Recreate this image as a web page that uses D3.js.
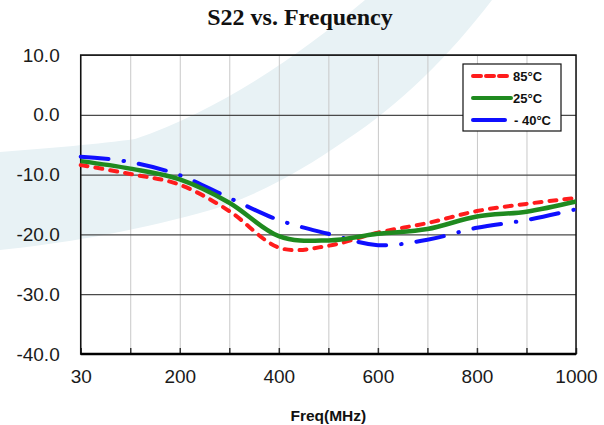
<!DOCTYPE html>
<html>
<head>
<meta charset="utf-8">
<script src="https://cdn.jsdelivr.net/npm/d3@7"></script>
<style>
  body { margin: 0; background: #fff; }
  svg { display: block; font-family: "Liberation Sans", Arial, sans-serif; }
</style>
</head>
<body>
<div id="chart"></div>
<script>
// frequency categories (MHz), evenly spaced on the axis
var freqs = [30, 100, 200, 300, 400, 500, 600, 700, 800, 900, 1000];
var freqLabels = [30, 200, 400, 600, 800, 1000];

// S22 (dB)
var s22_85 = [-8.4, -9.9, -11.7, -16.1, -22.2, -21.9, -19.7, -18.1, -16.1, -14.9, -13.9];
var s22_25 = [-7.75, -9.0, -10.8, -14.7, -20.3, -21.0, -19.9, -19.1, -17.0, -16.2, -14.5];
var s22_m40 = [-7.0, -7.9, -10.1, -13.9, -17.6, -19.9, -21.8, -20.9, -18.9, -17.6, -15.8];

var yTicks = [10, 0, -10, -20, -30, -40];

var series = [
  {name: "85°C", values: s22_85, color: "#ff1c1c", width: 4, dash: "7,8"},
  {name: "25°C", values: s22_25, color: "#1f8a1f", width: 4.5, dash: null},
  {name: "- 40°C", values: s22_m40, color: "#0f0fff", width: 4, dash: "28,15,0.5,15"}
];

var W = 604, H = 425;
var margin = {top: 55, right: 28, bottom: 71, left: 80.7};
var width = W - margin.left - margin.right,
    height = H - margin.top - margin.bottom;

var svg = d3.select("#chart").append("svg")
    .attr("width", W)
    .attr("height", H);

// faint watermark swoosh behind the chart
svg.append("path")
    .attr("d", "M0,152 C50,148 100,144 135,139 C220,110 300,55 365,0 L492,0 C450,55 400,105 346,140 C300,172 250,200 200,213 C130,232 60,244 0,250 Z")
    .attr("fill", "#e8f2f5");

svg.append("text")
    .attr("x", 300)
    .attr("y", 24.5)
    .attr("text-anchor", "middle")
    .style("font-family", "'Liberation Serif', 'Times New Roman', serif")
    .style("font-weight", "bold")
    .style("font-size", "24px")
    .attr("fill", "#111")
    .text("S22 vs. Frequency");

var g = svg.append("g")
    .attr("transform", "translate(" + margin.left + "," + margin.top + ")");

var x = d3.scalePoint()
    .domain(freqs)
    .range([0, width]);

var y = d3.scaleLinear()
    .domain([-40, 10])
    .range([height, 0]);

// vertical grid
g.append("g")
    .attr("class", "grid-x")
    .attr("transform", "translate(0," + height + ")")
    .call(d3.axisBottom(x).tickSize(-height).tickFormat(""))
    .call(function(s) {
      s.select(".domain").remove();
      s.selectAll("line").attr("stroke", "#c8c8c8").attr("stroke-width", 1);
    });

// horizontal grid
g.append("g")
    .attr("class", "grid-y")
    .call(d3.axisLeft(y).tickValues(yTicks).tickSize(-width).tickFormat(""))
    .call(function(s) {
      s.select(".domain").remove();
      s.selectAll("line").attr("stroke", "#4a4a4a").attr("stroke-width", 1.2);
    });

// small inner ticks on the bottom axis
g.append("g")
    .attr("transform", "translate(0," + height + ")")
    .call(d3.axisBottom(x).tickSize(-6).tickFormat(""))
    .call(function(s) {
      s.select(".domain").remove();
      s.selectAll("line").attr("stroke", "#333").attr("stroke-width", 1.5);
    });

// frame
g.append("rect")
    .attr("width", width)
    .attr("height", height)
    .attr("fill", "none")
    .attr("stroke", "#111")
    .attr("stroke-width", 1.5);
g.append("line")
    .attr("x1", 0).attr("x2", width)
    .attr("y1", height).attr("y2", height)
    .attr("stroke", "#000")
    .attr("stroke-width", 2.5);

// y labels
g.append("g")
    .call(d3.axisLeft(y).tickValues(yTicks).tickSize(0).tickPadding(21)
      .tickFormat(function(d) { return d.toFixed(1); }))
    .call(function(s) {
      s.select(".domain").remove();
      s.selectAll("text")
        .style("font-size", "19px")
        .style("font-family", "'Liberation Sans', Arial, sans-serif")
        .attr("fill", "#1a1a1a");
    });

// x labels
g.append("g")
    .attr("transform", "translate(0," + height + ")")
    .call(d3.axisBottom(x).tickValues(freqLabels).tickSize(0).tickPadding(16))
    .call(function(s) {
      s.select(".domain").remove();
      s.selectAll("text")
        .style("font-size", "19px")
        .style("font-family", "'Liberation Sans', Arial, sans-serif")
        .attr("fill", "#1a1a1a");
    });

svg.append("text")
    .attr("x", margin.left + width / 2)
    .attr("y", 421)
    .attr("text-anchor", "middle")
    .style("font-weight", "bold")
    .style("font-size", "15.5px")
    .attr("fill", "#111")
    .text("Freq(MHz)");

var line = d3.line()
    .x(function(d, i) { return x(freqs[i]); })
    .y(function(d) { return y(d); })
    .curve(d3.curveCardinal.tension(0));

// draw -40 first so the warmer curves sit on top like the original
var order = [series[2], series[0], series[1]];
g.selectAll(".curve")
  .data(order)
  .enter().append("path")
    .attr("class", "curve")
    .attr("d", function(d) { return line(d.values); })
    .attr("fill", "none")
    .attr("stroke", function(d) { return d.color; })
    .attr("stroke-width", function(d) { return d.width; })
    .attr("stroke-linecap", function(d) { return d.dash ? "round" : "butt"; })
    .attr("stroke-dasharray", function(d) { return d.dash; });

// legend
var leg = svg.append("g").attr("transform", "translate(463,64)");
leg.append("rect")
    .attr("width", 98)
    .attr("height", 67)
    .attr("fill", "#fff")
    .attr("stroke", "#111")
    .attr("stroke-width", 1.2);

var legDash = ["8,5", null, null];
var item = leg.selectAll(".item")
  .data(series)
  .enter().append("g")
    .attr("class", "item")
    .attr("transform", function(d, i) { return "translate(0," + (12 + i * 22) + ")"; });

item.append("line")
    .attr("x1", 10)
    .attr("x2", function(d, i) { return i == 2 ? 42 : 48; })
    .attr("stroke", function(d) { return d.color; })
    .attr("stroke-width", 4)
    .attr("stroke-linecap", "round")
    .attr("stroke-dasharray", function(d, i) { return legDash[i]; });

item.append("text")
    .attr("x", function(d, i) { return i == 2 ? 51 : 50; })
    .attr("y", 5)
    .style("font-weight", "bold")
    .style("font-size", "13px")
    .attr("fill", "#111")
    .text(function(d) { return d.name; });
</script>
</body>
</html>
